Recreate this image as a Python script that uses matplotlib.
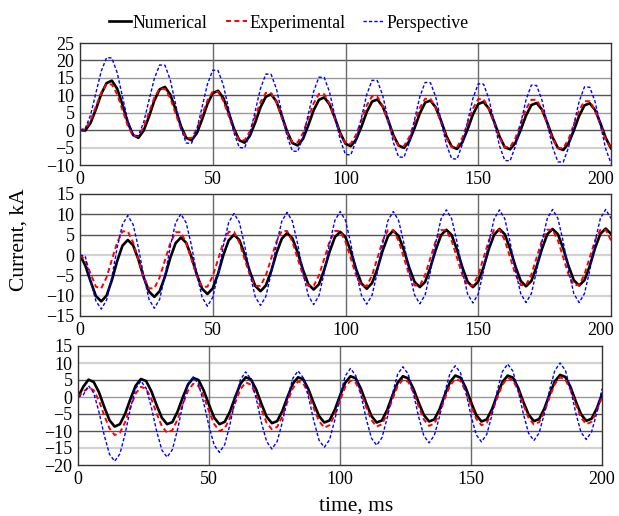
import matplotlib
matplotlib.use("Agg")
import matplotlib.pyplot as plt
from matplotlib.transforms import ScaledTranslation

plt.rcParams['font.family'] = ['Liberation Serif', 'DejaVu Serif']

time_ms = list(range(0, 201, 2))

# ---------------- Panel 1 ----------------
num_1 = [0, -0.1, 2.1, 6.0, 10.4, 13.5,
         14.2, 11.9, 7.3, 2.2, -1.4, -2.2, -0.1, 3.9, 8.5, 11.7,
         12.4, 10.2, 6.0, 1.2, -2.2, -2.9, -0.9, 3.1, 7.5, 10.6,
         11.3, 9.2, 5.0, 0.4, -2.9, -3.6, -1.6, 2.2, 6.6, 9.6,
         10.3, 8.2, 4.1, -0.4, -3.7, -4.4, -2.5, 1.4, 5.7, 8.7,
         9.4, 7.4, 3.5, -0.8, -3.9, -4.6, -2.7, 1.0, 5.2, 8.2,
         8.8, 6.8, 3.0, -1.4, -4.4, -5.1, -3.2, 0.6, 4.8, 7.9,
         8.5, 6.5, 2.7, -1.7, -4.7, -5.4, -3.5, 0.3, 4.5, 7.5,
         8.1, 6.2, 2.4, -1.8, -4.9, -5.5, -3.6, 0.1, 4.2, 7.2,
         7.8, 5.9, 2.1, -2.1, -5.1, -5.7, -3.8, -0.1, 4.1, 7.1,
         7.7, 5.8, 2.0, -2.2, -5.2]
exp_1 = [0, 0.3, 2.8, 6.8, 10.7, 13.2,
         13.1, 10.3, 5.8, 1.2, -1.6, -1.7, 0.9, 5.1, 9.3, 11.9,
         11.8, 9.2, 4.8, 0.4, -2.2, -2.3, 0.3, 4.4, 8.5, 11.1,
         11.0, 8.4, 4.1, -0.2, -2.9, -2.9, -0.3, 3.9, 8.1, 10.7,
         10.6, 8.0, 3.6, -0.8, -3.4, -3.5, -0.8, 3.5, 7.7, 10.4,
         10.3, 7.6, 3.3, -1.1, -3.8, -3.9, -1.3, 2.9, 7.1, 9.7,
         9.6, 6.9, 2.6, -1.8, -4.5, -4.6, -2.0, 2.2, 6.4, 9.0,
         9.0, 6.3, 2.1, -2.2, -4.9, -4.9, -2.2, 2.0, 6.2, 8.9,
         8.9, 6.2, 2.0, -2.2, -4.9, -4.9, -2.3, 1.9, 6.1, 8.7,
         8.7, 6.0, 1.8, -2.5, -5.2, -5.2, -2.6, 1.6, 5.7, 8.3,
         8.3, 5.7, 1.5, -2.7, -5.3]
per_1 = [0, 0.5, 4.4, 10.7, 16.9, 20.8,
         20.7, 16.5, 9.6, 2.7, -1.5, -1.6, 2.3, 8.6, 14.8, 18.7,
         18.6, 14.4, 7.5, 0.5, -3.7, -3.8, 0.2, 6.7, 13.2, 17.2,
         17.1, 12.9, 6.1, -0.8, -5.0, -5.1, -1.0, 5.5, 12.0, 16.1,
         16.0, 11.8, 5.0, -1.8, -6.0, -6.1, -2.0, 4.6, 11.1, 15.2,
         15.1, 10.9, 4.1, -2.8, -7.0, -7.1, -3.0, 3.6, 10.2, 14.3,
         14.2, 10.0, 3.3, -3.5, -7.7, -7.8, -3.7, 3.0, 9.6, 13.7,
         13.6, 9.5, 2.7, -4.1, -8.2, -8.3, -4.1, 2.5, 9.1, 13.3,
         13.2, 9.0, 2.3, -4.5, -8.7, -8.8, -4.6, 2.0, 8.7, 12.9,
         12.8, 8.6, 1.9, -4.9, -9.1, -9.2, -5.0, 1.6, 8.2, 12.4,
         12.3, 8.2, 1.5, -5.3, -9.5]

# ---------------- Panel 2 ----------------
num_2 = [0, -2.6, -6.5, -10.1, -11.4,
         -10.0, -6.2, -1.5, 2.3, 3.7, 2.4, -1.1, -5.5, -9.0, -10.3,
         -8.9, -5.3, -0.7, 2.9, 4.3, 3.0, -0.5, -4.8, -8.3, -9.6,
         -8.2, -4.6, 0.0, 3.6, 5.0, 3.7, 0.2, -4.1, -7.6, -8.9,
         -7.5, -4.0, 0.5, 4.0, 5.4, 4.1, 0.6, -3.7, -7.2, -8.5,
         -7.2, -3.6, 0.8, 4.4, 5.7, 4.4, 0.9, -3.5, -7.0, -8.3,
         -6.9, -3.4, 1.1, 4.6, 6.0, 4.7, 1.2, -3.1, -6.6, -7.9,
         -6.6, -3.0, 1.3, 4.9, 6.2, 4.9, 1.3, -3.0, -6.6, -7.9,
         -6.5, -3.0, 1.5, 5.0, 6.4, 5.1, 1.5, -2.8, -6.4, -7.7,
         -6.4, -2.8, 1.5, 5.1, 6.4, 5.1, 1.6, -2.7, -6.2, -7.5,
         -6.2, -2.7, 1.7, 5.2, 6.5, 5.2]
exp_2 = [0, -1.2, -4.6, -7.8,
         -8.2, -5.5, -1.2, 3.1, 5.8, 5.8, 3.1, -1.2, -5.5, -8.2,
         -8.2, -5.5, -1.3, 2.9, 5.6, 5.6, 3.0, -1.1, -5.2, -7.8,
         -7.8, -5.2, -1.1, 3.1, 5.7, 5.7, 3.1, -1.0, -5.0, -7.6,
         -7.6, -5.0, -0.9, 3.3, 5.9, 5.9, 3.3, -0.9, -5.0, -7.6,
         -7.6, -5.0, -0.9, 3.3, 5.9, 5.9, 3.3, -0.9, -5.0, -7.6,
         -7.6, -5.0, -0.8, 3.5, 6.1, 6.1, 3.5, -0.7, -4.9, -7.5,
         -7.5, -4.9, -0.7, 3.5, 6.1, 6.1, 3.5, -0.7, -4.9, -7.5,
         -7.5, -4.9, -0.7, 3.6, 6.2, 6.2, 3.6, -0.6, -4.8, -7.4,
         -7.4, -4.8, -0.6, 3.6, 6.2, 6.2, 3.6, -0.6, -4.8, -7.4,
         -7.4, -4.8, -0.6, 3.6, 6.2, 6.2, 3.6]
per_2 = [0, -0.3, -6.5, -11.3, -13.3,
         -11.1, -5.4, 1.8, 7.5, 9.7, 7.5, 1.8, -5.2, -10.9, -13.1,
         -10.9, -5.1, 2.1, 7.9, 10.1, 7.9, 2.3, -4.8, -10.4, -12.6,
         -10.4, -4.7, 2.3, 8.0, 10.2, 8.1, 2.4, -4.6, -10.3, -12.4,
         -10.2, -4.5, 2.6, 8.3, 10.5, 8.3, 2.7, -4.4, -10.0, -12.2,
         -10.0, -4.3, 2.8, 8.5, 10.7, 8.5, 2.8, -4.2, -9.9, -12.1,
         -9.9, -4.2, 2.8, 8.5, 10.7, 8.5, 2.9, -4.2, -9.8, -12.0,
         -9.8, -4.0, 3.1, 8.9, 11.1, 8.9, 3.2, -3.9, -9.6, -11.8,
         -9.6, -3.9, 3.2, 8.9, 11.1, 8.9, 3.2, -3.8, -9.5, -11.7,
         -9.5, -3.8, 3.3, 9.0, 11.2, 9.0, 3.3, -3.8, -9.5, -11.7,
         -9.5, -3.8, 3.3, 9.0, 11.2, 9.0]

# ---------------- Panel 3 ----------------
num_3 = [0, 3.0, 5.1,
         4.4, 1.4, -2.9, -6.8, -8.7, -8.0, -4.9, -0.6, 3.3, 5.3,
         4.7, 1.7, -2.4, -6.1, -8.0, -7.4, -4.3, -0.1, 3.7, 5.6,
         5.0, 1.9, -2.3, -6.1, -8.0, -7.3, -4.3, 0.0, 3.9, 5.8,
         5.2, 2.2, -2.0, -5.8, -7.7, -7.1, -4.1, 0.1, 3.9, 5.8,
         5.2, 2.2, -1.9, -5.6, -7.5, -6.9, -3.8, 0.4, 4.2, 6.1,
         5.5, 2.4, -1.8, -5.6, -7.5, -6.9, -3.8, 0.4, 4.2, 6.1,
         5.5, 2.5, -1.6, -5.3, -7.2, -6.6, -3.6, 0.6, 4.4, 6.3,
         5.7, 2.7, -1.5, -5.3, -7.2, -6.6, -3.6, 0.6, 4.4, 6.3,
         5.7, 2.7, -1.5, -5.2, -7.1, -6.5, -3.4, 0.8, 4.6, 6.5,
         5.9, 2.9, -1.3, -5.1, -7.0, -6.4, -3.4, 0.8]
exp_3 = [0, 1.5, 2.8,
         2.0, -1.1, -5.4, -9.2, -11.2, -10.5, -7.4, -3.0, 1.0, 3.0,
         2.4, -0.6, -4.8, -8.6, -10.5, -9.8, -6.6, -2.2, 1.9, 3.9,
         3.2, 0.2, -4.2, -8.0, -10.0, -9.3, -6.1, -1.7, 2.3, 4.3,
         3.6, 0.6, -3.7, -7.6, -9.5, -8.8, -5.7, -1.3, 2.6, 4.6,
         4.0, 0.9, -3.3, -7.1, -9.0, -8.3, -5.3, -1.0, 2.9, 4.8,
         4.2, 1.2, -3.0, -6.8, -8.7, -8.0, -5.0, -0.7, 3.2, 5.1,
         4.5, 1.4, -2.8, -6.6, -8.5, -7.8, -4.8, -0.5, 3.4, 5.3,
         4.7, 1.6, -2.6, -6.4, -8.3, -7.6, -4.6, -0.3, 3.6, 5.6,
         5.0, 1.9, -2.3, -6.2, -8.1, -7.4, -4.4, -0.1, 3.8, 5.8,
         5.1, 2.1, -2.2, -6.1, -8.0, -7.3, -4.2, 0.0]
per_3 = [0, 0.6, 3.3,
         1.2, -4.4, -11.2, -16.8, -18.9, -16.7, -10.8, -3.4, 2.5, 4.7,
         2.6, -3.0, -10.0, -15.6, -17.7, -15.5, -9.6, -2.2, 3.7, 5.9,
         3.8, -1.8, -8.6, -14.2, -16.3, -14.0, -8.1, -0.8, 5.1, 7.4,
         5.2, -0.4, -7.5, -13.1, -15.3, -13.1, -7.4, -0.2, 5.5, 7.7,
         5.6, -0.1, -7.0, -12.7, -14.8, -12.6, -6.8, 0.4, 6.2, 8.4,
         6.3, 0.6, -6.4, -12.1, -14.2, -12.0, -6.2, 0.9, 6.7, 8.9,
         6.8, 1.2, -5.8, -11.4, -13.5, -11.3, -5.7, 1.4, 7.0, 9.2,
         7.1, 1.5, -5.5, -11.1, -13.2, -11.0, -5.3, 1.8, 7.5, 9.7,
         7.6, 1.9, -5.0, -10.7, -12.8, -10.6, -4.9, 2.1, 7.8, 10.0,
         7.9, 2.2, -4.7, -10.4, -12.5, -10.3, -4.7, 2.4]

x_ticks = [0, 50, 100, 150, 200]
y_ticks_1 = [-10, -5, 0, 5, 10, 15, 20, 25]
y_ticks_2 = [-15, -10, -5, 0, 5, 10, 15]
y_ticks_3 = [-20, -15, -10, -5, 0, 5, 10, 15]
series_labels = ["Numerical", "Experimental", "Perspective"]

W, H = 619, 516
fig = plt.figure(figsize=(W / 100, H / 100), dpi=100)

# pixel boxes: left, top, right, bottom
boxes = [(80, 43, 611, 165), (80, 194, 611, 316), (78, 346, 602, 465)]
# horizontal offset (px) applied to the last x tick label so it stays inside
last_label_shift = [-10, -10, 0]
dark, mid, light = '#555555', '#9a9a9a', '#d2d2d2'
grid_styles = [
    {20: dark, 15: mid, 10: dark, 5: mid, 0: dark, -5: light},
    {10: dark, 5: dark, 0: light, -10: light, -5: dark},
    {10: light, 5: dark, 0: mid, -5: dark, -10: dark, -15: light},
]
panels = [(num_1, exp_1, per_1, y_ticks_1),
          (num_2, exp_2, per_2, y_ticks_2),
          (num_3, exp_3, per_3, y_ticks_3)]

handles = None
for (l, t, r, b), (num, exp, per, yt), gs, shift in zip(
        boxes, panels, grid_styles, last_label_shift):
    ax = fig.add_axes([l / W, 1 - b / H, (r - l) / W, (b - t) / H])
    h1, = ax.plot(time_ms, num, color='black', lw=1.9, zorder=3,
                  solid_joinstyle='round')
    h2, = ax.plot(time_ms, exp, color='#ff0000', lw=1.4, zorder=4,
                  linestyle=(0, (2.6, 1.7)))
    h3, = ax.plot(time_ms, per, color='#0000ff', lw=1.0, zorder=5,
                  linestyle=(0, (2.4, 1.5)))
    handles = [h1, h2, h3]
    ax.set_xlim(x_ticks[0], x_ticks[-1])
    ax.set_ylim(yt[0], yt[-1])
    ax.set_xticks(x_ticks)
    ax.set_yticks(yt)
    for v, c in gs.items():
        ax.axhline(v, color=c, lw=1.0 if c != light else 1.6, zorder=1)
    for v in x_ticks[1:-1]:
        ax.axvline(v, color='#6a6a6a', lw=1.0, zorder=1)
    ax.tick_params(length=0, labelsize=13, pad=4)
    for s in ax.spines.values():
        s.set_color('#333333')
        s.set_linewidth(1.0)
        s.set_zorder(6)
    if shift:
        lab = ax.xaxis.get_major_ticks()[-1].label1
        lab.set_transform(lab.get_transform() +
                          ScaledTranslation(shift / 100, 0, fig.dpi_scale_trans))

fig.legend(handles, series_labels, loc='center',
           bbox_to_anchor=(289 / W, 1 - 23 / H), ncol=3, frameon=False,
           fontsize=12.8, handlelength=1.2, handletextpad=0.12,
           columnspacing=1.0)
fig.text(19 / W, 1 - 240 / H, "Current, kA", rotation=90, ha='center',
         va='center', fontsize=15.5)
fig.text(356 / W, 1 - 506 / H, "time, ms", ha='center', va='center',
         fontsize=15.5)

fig.savefig("out.png", dpi=100)
